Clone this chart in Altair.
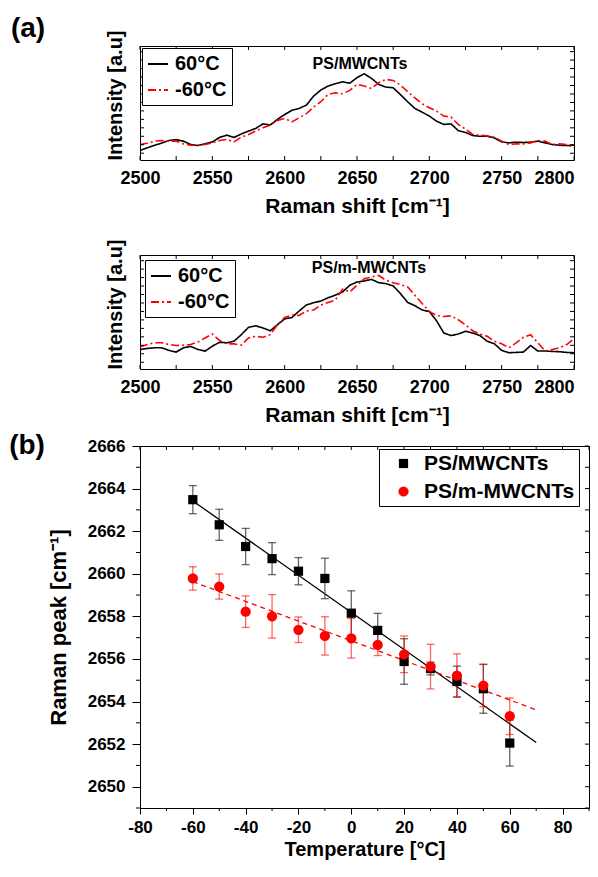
import altair as alt
import pandas as pd

FONT = "Liberation Sans"

# ---------------- panel (a) data ----------------
wn = list(range(2500, 2801, 5))  # Raman shift sampling [cm-1]
series_names = ["60°C", "-60°C"]

a1_black = [7.4, 9.8, 12.0, 14.0, 16.3, 17.0, 15.7, 12.7, 11.8, 13.3,
            15.0, 19.0, 21.0, 19.0, 22.0, 24.6, 27.0, 31.0, 30.0, 35.0,
            39.3, 43.0, 44.7, 47.6, 55.6, 61.0, 64.5, 66.6, 68.3, 67.0,
            72.0, 75.4, 71.3, 66.0, 63.6, 63.0, 57.0, 50.6, 44.7, 41.4,
            37.9, 33.4, 30.5, 31.0, 25.0, 23.4, 20.7, 20.0, 20.0, 18.6,
            15.0, 14.2, 14.8, 14.5, 14.8, 15.7, 14.2, 12.7, 12.1, 11.8,
            12.1]
a1_red = [12.7, 13.9, 15.7, 16.3, 15.7, 15.7, 13.3, 12.1, 12.1, 12.7,
          14.2, 16.3, 17.2, 15.0, 19.2, 21.6, 24.6, 27.5, 29.9, 34.0,
          35.8, 32.8, 36.4, 40.0, 45.9, 50.6, 57.1, 58.6, 57.7, 60.7,
          66.0, 64.5, 62.4, 67.5, 70.4, 69.5, 65.4, 59.5, 54.1, 48.8,
          45.3, 42.3, 37.9, 37.0, 30.5, 26.3, 21.6, 21.0, 20.4, 19.2,
          15.7, 12.7, 13.3, 13.3, 14.2, 16.3, 15.7, 12.7, 13.3, 12.7,
          9.8]
a2_black = [16.3, 17.2, 17.8, 17.8, 15.5, 14.0, 17.8, 19.0, 16.3, 14.9,
            19.2, 22.7, 22.2, 23.6, 29.4, 35.9, 37.3, 35.3, 32.9, 38.2,
            43.4, 44.6, 50.4, 55.7, 57.7, 59.2, 62.1, 64.4, 67.3, 73.2,
            76.1, 77.0, 78.4, 75.5, 74.6, 72.6, 65.9, 58.0, 55.1, 51.3,
            49.9, 41.7, 30.9, 28.6, 30.0, 32.4, 30.9, 28.6, 23.6, 21.3,
            15.5, 13.4, 13.7, 14.0, 19.8, 14.9, 14.9, 14.6, 14.3, 13.7,
            13.4]
a2_red = [18.4, 20.7, 22.2, 22.2, 20.7, 19.8, 20.1, 20.7, 23.0, 26.5,
          30.0, 24.2, 21.3, 21.3, 20.1, 26.5, 28.0, 27.1, 29.4, 38.2,
          44.6, 46.9, 46.4, 50.4, 51.3, 55.7, 58.0, 60.1, 69.7, 67.3,
          73.2, 79.0, 80.5, 81.9, 77.6, 75.5, 73.8, 71.7, 64.4, 57.1,
          49.9, 46.4, 45.5, 46.1, 42.6, 38.2, 32.9, 30.0, 28.0, 23.6,
          21.3, 17.8, 22.2, 27.1, 29.4, 22.2, 14.9, 16.3, 17.8, 20.7,
          25.7]
panel_names = ["PS/MWCNTs", "PS/m-MWCNTs"]
panel_tags = ["(a)", "(b)"]
x_ticks_a = [2500, 2525, 2550, 2575, 2600, 2625, 2650, 2675, 2700, 2725, 2750, 2775, 2800]
x_labels_a = [2500, 2550, 2600, 2650, 2700, 2750, 2800]
y_ticks_a = [5, 12.5, 20, 27.5, 35, 42.5, 50, 57.5, 65, 72.5, 80, 87.5, 95]

# ---------------- panel (b) data ----------------
temps = [-60, -50, -40, -30, -20, -10, 0, 10, 20, 30, 40, 50, 60]
ps_peak = [2663.48, 2662.30, 2661.28, 2660.71, 2660.12, 2659.78, 2658.15,
           2657.34, 2655.88, 2655.55, 2654.94, 2654.60, 2652.05]
ps_err = [0.66, 0.73, 0.85, 0.75, 0.64, 0.95, 1.05, 0.80, 1.07, 0.30, 0.72, 1.15, 1.08]
m_peak = [2659.78, 2659.40, 2658.22, 2658.00, 2657.37, 2657.08, 2656.97,
          2656.66, 2656.22, 2655.64, 2655.22, 2654.75, 2653.31]
m_err = [0.55, 0.59, 0.74, 1.02, 0.60, 0.90, 0.93, 0.50, 0.86, 1.05, 1.02, 0.99, 0.86]
fit_T = [-60, 70]
ps_fit = [2663.42, 2652.08]
m_fit = [2659.63, 2653.61]
x_labels_b = [-80, -60, -40, -20, 0, 20, 40, 60, 80]
x_minor_b = [-70, -50, -30, -10, 10, 30, 50, 70, 90]
x_top_b = [-80, -70, -60, -50, -40, -30, -20, -10, 0, 10, 20, 30, 40, 50, 60, 70, 80, 90]
y_labels_b = [2650, 2652, 2654, 2656, 2658, 2660, 2662, 2664, 2666]
y_minor_b = [2649, 2651, 2653, 2655, 2657, 2659, 2661, 2663, 2665]
y_right_b = list(range(2649, 2667))

WA, HA = 434, 114
WB, HB = 449, 362
PLAIN = "'' + datum.value"


def spectrum(black, red, idx, legx, legy, namex, namey, tag):
    df = pd.DataFrame({
        "wn": wn + wn,
        "I": black + red,
        "series": [series_names[0]] * len(wn) + [series_names[1]] * len(wn),
    })
    xs = alt.Scale(domain=[2500, 2800], nice=False, zero=False)
    ys = alt.Scale(domain=[-1, 100], nice=False, zero=False)
    xax = alt.Axis(values=x_labels_a, title="Raman shift [cm⁻¹]", ticks=False,
                   tickSize=0, domain=False, grid=False, labelPadding=9, labelFlush=False,
                   labelAlign={"condition": {"test": "datum.value >= 2800", "value": "right"},
                               "value": "center"},
                   labelFontSize=18, titleFontSize=21, titlePadding=8, labelExpr=PLAIN)
    yax = alt.Axis(labels=False, ticks=False, tickSize=0, domain=False, grid=False,
                   title="Intensity [a.u]", titleAnchor="start",
                   titleFontSize=20, titlePadding=15)
    leg = alt.Legend(title=None, orient="none", legendX=legx, legendY=legy,
                     symbolType="stroke", symbolSize=400, symbolStrokeWidth=2,
                     labelFontSize=20, labelFont=FONT, labelFontWeight="bold",
                     labelOffset=6, padding=5, rowPadding=5,
                     strokeColor="black", fillColor="white", labelColor="black")
    X = alt.X("wn:Q", scale=xs, axis=xax)
    Y = alt.Y("I:Q", scale=ys, axis=yax)
    lines = alt.Chart(df).mark_line(strokeWidth=1.6).encode(
        x=X, y=Y,
        color=alt.Color("series:N", sort=series_names,
                        scale=alt.Scale(domain=series_names, range=["black", "red"]),
                        legend=leg),
        strokeDash=alt.StrokeDash("series:N", sort=series_names,
                                  scale=alt.Scale(domain=series_names, range=[[1, 0], [8, 3, 2, 3]]),
                                  legend=leg),
    )
    xt = pd.DataFrame({"wn": x_ticks_a})
    yt = pd.DataFrame({"I": y_ticks_a})
    bot = alt.Chart(xt).mark_rule(color="black").encode(
        x=X, y=alt.value(HA), y2=alt.value(HA - 4))
    top = alt.Chart(xt).mark_rule(color="black").encode(
        x=X, y=alt.value(0), y2=alt.value(4))
    left = alt.Chart(yt).mark_rule(color="black").encode(
        y=Y, x=alt.value(0), x2=alt.value(4))
    right = alt.Chart(yt).mark_rule(color="black").encode(
        y=Y, x=alt.value(WA), x2=alt.value(WA - 4))
    name = alt.Chart(pd.DataFrame({"t": [panel_names[idx]]})).mark_text(
        font=FONT, fontWeight="bold", fontSize=16, color="black").encode(
        text="t:N", x=alt.value(namex), y=alt.value(namey))
    layers = [lines, bot, top, left, right, name]
    if tag:
        layers.append(alt.Chart(pd.DataFrame({"t": [panel_tags[0]]})).mark_text(
            font=FONT, fontWeight="bold", fontSize=28, color="black").encode(
            text="t:N", x=alt.value(-112), y=alt.value(-17)))
    return alt.layer(*layers).properties(width=WA, height=HA)


a1 = spectrum(a1_black, a1_red, 0, 2, 2, 220, 18, True)
a2 = spectrum(a2_black, a2_red, 1, 5, 5, 229, 13, False)

# ---------------- panel (b) ----------------
xsb = alt.Scale(domain=[-80, 90], nice=False, zero=False)
ysb = alt.Scale(domain=[2649, 2666], nice=False, zero=False)

pts = pd.DataFrame({
    "T": temps + temps,
    "peak": ps_peak + m_peak,
    "lo": [p - e for p, e in zip(ps_peak, ps_err)] + [p - e for p, e in zip(m_peak, m_err)],
    "hi": [p + e for p, e in zip(ps_peak, ps_err)] + [p + e for p, e in zip(m_peak, m_err)],
    "series": [panel_names[0]] * len(temps) + [panel_names[1]] * len(temps),
})
ps_df = pts[pts.series == panel_names[0]]
m_df = pts[pts.series == panel_names[1]]
fit_df = pd.DataFrame({"T": fit_T + fit_T, "peak": ps_fit + m_fit,
                       "series": [panel_names[0]] * 2 + [panel_names[1]] * 2})

legb = alt.Legend(title=None, orient="none", legendX=239, legendY=3,
                  labelFontSize=21, labelFont=FONT, labelFontWeight="bold",
                  labelOffset=10, padding=4, rowPadding=6, symbolOffset=10,
                  symbolStrokeWidth=0, labelExpr="datum.label + '\u00a0\u00a0'",
                  strokeColor="black", fillColor="white", labelColor="black")

xaxb = alt.Axis(values=x_labels_b, title="Temperature [°C]", tickSize=6,
                domainColor="black", tickColor="black", grid=False, labelFlush=False,
                labelPadding=5, labelFontSize=17, titleFontSize=20,
                titlePadding=4, labelExpr=PLAIN)
yaxb = alt.Axis(values=y_labels_b, title="Raman peak [cm⁻¹]", tickSize=8,
                domainColor="black", tickColor="black", grid=False, labelFlush=False,
                labelPadding=7, labelFontSize=17, titleFontSize=22,
                titlePadding=17, labelExpr=PLAIN)
XB = alt.X("T:Q", scale=xsb, axis=xaxb)
YB = alt.Y("peak:Q", scale=ysb, axis=yaxb)

fit_ps = alt.Chart(fit_df[fit_df.series == panel_names[0]]).mark_line(
    color="black", strokeWidth=1.3).encode(x=XB, y=YB)
fit_m = alt.Chart(fit_df[fit_df.series == panel_names[1]]).mark_line(
    color="red", strokeWidth=1.3, strokeDash=[5, 4]).encode(x=XB, y=YB)
err_ps = alt.Chart(ps_df).mark_errorbar(ticks={"size": 8}, color="#333333", opacity=0.75,
                                         thickness=1.3).encode(
    x=XB, y=alt.Y("lo:Q", scale=ysb, axis=yaxb), y2="hi:Q")
err_m = alt.Chart(m_df).mark_errorbar(ticks={"size": 8}, color="red", opacity=0.6,
                                       thickness=1.3).encode(
    x=XB, y=alt.Y("lo:Q", scale=ysb, axis=yaxb), y2="hi:Q")
points = alt.Chart(pts).mark_point(filled=True, opacity=1).encode(
    x=XB, y=YB,
    color=alt.Color("series:N", sort=panel_names,
                    scale=alt.Scale(domain=panel_names, range=["black", "red"]), legend=legb),
    shape=alt.Shape("series:N", sort=panel_names,
                    scale=alt.Scale(domain=panel_names, range=["square", "circle"]), legend=legb),
    size=alt.Size("series:N", sort=panel_names,
                  scale=alt.Scale(domain=panel_names, range=[85, 105]), legend=legb),
    order=alt.Order("series:N", sort="ascending"),
)


def rules_x(vals, y1, y2):
    return alt.Chart(pd.DataFrame({"T": vals})).mark_rule(color="black").encode(
        x=XB, y=alt.value(y1), y2=alt.value(y2))


def rules_y(vals, x1, x2):
    return alt.Chart(pd.DataFrame({"peak": vals})).mark_rule(color="black").encode(
        y=YB, x=alt.value(x1), x2=alt.value(x2))


tag_b = alt.Chart(pd.DataFrame({"t": [panel_tags[1]]})).mark_text(
    font=FONT, fontWeight="bold", fontSize=28, color="black").encode(
    text="t:N", x=alt.value(-113), y=alt.value(0))

b = alt.layer(
    fit_ps, fit_m,
    rules_x(x_minor_b, HB, HB + 3),
    rules_x(x_top_b, 0, 4),
    rules_y(y_minor_b, 0, -4),
    rules_y(y_right_b, WB, WB - 4),
    err_ps, err_m, points, tag_b,
).properties(width=WB, height=HB)

top = alt.vconcat(a1, a2, spacing=21).resolve_scale(
    color="independent", strokeDash="independent").resolve_legend(
    color="independent", strokeDash="independent")

chart = alt.vconcat(top, b, spacing=5).resolve_scale(
    color="independent", strokeDash="independent", shape="independent", size="independent",
    x="independent", y="independent").resolve_legend(
    color="independent", strokeDash="independent", shape="independent", size="independent"
).configure(font=FONT, padding={"left": 0, "top": 6, "right": 0, "bottom": 0}).configure_view(
    stroke="black", strokeWidth=1).configure_axis(
    labelFont=FONT, titleFont=FONT, labelFontWeight="bold", titleFontWeight="bold",
    labelColor="black", titleColor="black").configure_legend(
    labelFont=FONT)

chart.save("out.html", embed_options={"renderer": "svg", "actions": False})
